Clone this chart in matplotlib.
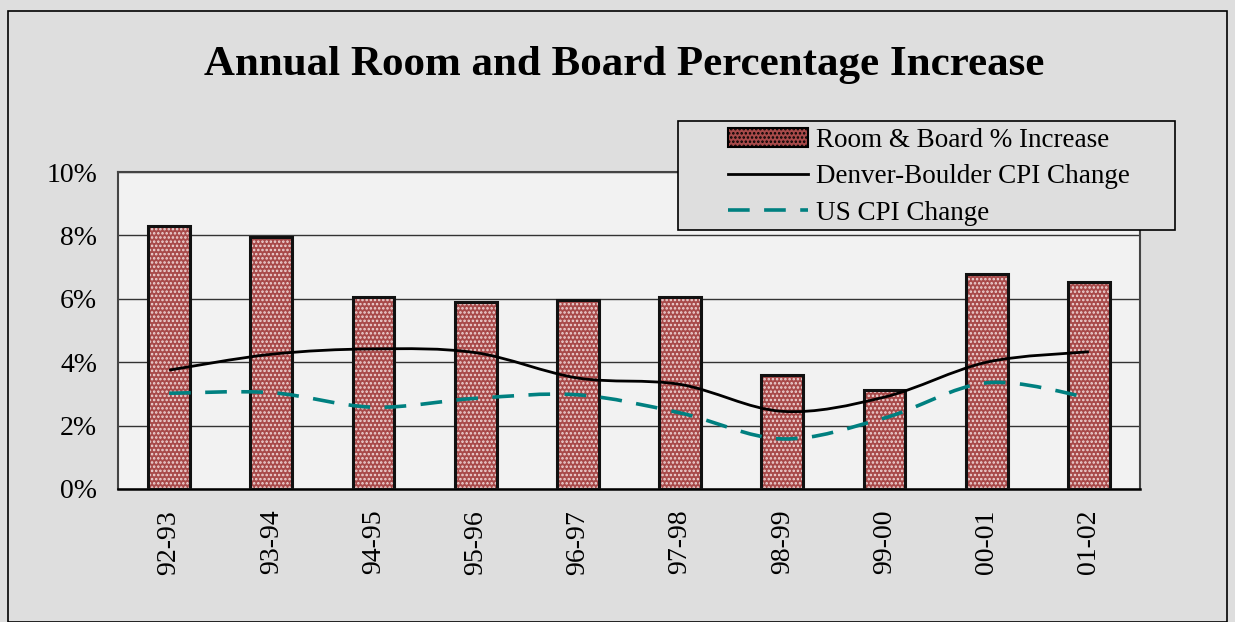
import numpy as np
import matplotlib.pyplot as plt
from matplotlib.path import Path
from matplotlib.patches import PathPatch, Patch
from matplotlib.lines import Line2D

plt.rcParams['font.family'] = ['Liberation Serif', 'DejaVu Serif']
plt.rcParams['hatch.linewidth'] = 1.2

# Veriler
years = ["92-93", "93-94", "94-95", "95-96", "96-97",
         "97-98", "98-99", "99-00", "00-01", "01-02"]
room_board = [8.30, 7.95, 6.05, 5.90, 5.97, 6.05, 3.60, 3.12, 6.78, 6.53]
denver_cpi = [3.75, 4.25, 4.42, 4.30, 3.50, 3.30, 2.45, 2.90, 4.00, 4.33]
us_cpi = [3.02, 3.04, 2.58, 2.86, 2.97, 2.40, 1.58, 2.24, 3.35, 2.88]


def smooth_path(x, y, t=1 / 6):
    # Excel benzeri yumuşatılmış çizgi: Catmull-Rom -> Bezier
    x = np.asarray(x, float)
    y = np.asarray(y, float)
    pts = np.column_stack([x, y])
    verts = [pts[0]]
    codes = [Path.MOVETO]
    n = len(pts)
    for i in range(n - 1):
        p0 = pts[i - 1] if i > 0 else pts[i]
        p1 = pts[i]
        p2 = pts[i + 1]
        p3 = pts[i + 2] if i + 2 < n else pts[i + 1]
        c1 = p1 + (p2 - p0) * t
        c2 = p2 - (p3 - p1) * t
        verts += [c1, c2, p2]
        codes += [Path.CURVE4] * 3
    return Path(verts, codes)


W, H = 1235, 622
fig = plt.figure(figsize=(W / 100, H / 100), dpi=100)
fig.patch.set_facecolor('#dedede')

# dış çerçeve
fig.add_artist(plt.Rectangle((8 / W, 0), 1 - 16 / W, 1 - 11 / H,
                             transform=fig.transFigure, fill=False,
                             edgecolor='black', lw=1.2))

ax = fig.add_axes([118 / W, 133 / H, 1022 / W, 317 / H])
ax.set_facecolor('#f2f2f2')

x = np.arange(len(years))
ax.bar(x, room_board, width=0.41, color='#a84a4a', hatch='....',
       edgecolor='#f0d8d8', lw=0, zorder=3)
ax.bar(x, room_board, width=0.41, fill=False, edgecolor='#111111',
       lw=2.2, zorder=4)

ax.add_patch(PathPatch(smooth_path(x, denver_cpi), fill=False,
                       edgecolor='black', lw=2, zorder=5))
ax.add_patch(PathPatch(smooth_path(x, us_cpi), fill=False,
                       edgecolor='#008080', lw=2.6, linestyle=(0, (6, 4)),
                       zorder=5))

ax.set_xlim(-0.5, len(years) - 0.5)
ax.set_ylim(0, 10)
ax.set_yticks(range(0, 11, 2))
ax.set_yticklabels([f"{v}%" for v in range(0, 11, 2)], fontsize=20)
ax.set_xticks(x)
ax.set_xticklabels(years, rotation=90, fontsize=20)
ax.tick_params(length=0)
ax.tick_params(axis='y', pad=15)
ax.tick_params(axis='x', pad=15)
ax.grid(axis='y', color='#333333', lw=1.0, zorder=1)
for side in ['top', 'left', 'right']:
    ax.spines[side].set_color('#444444')
    ax.spines[side].set_linewidth(1.5)
ax.spines['bottom'].set_linewidth(1.8)

fig.text(624 / W, 1 - 65 / H, "Annual Room and Board Percentage Increase",
         ha='center', va='center', fontsize=31, fontweight='bold')

# lejant kutusu
fig.add_artist(plt.Rectangle((678 / W, 1 - 230 / H), 497 / W, 109 / H,
                             transform=fig.transFigure, facecolor='#dedede',
                             edgecolor='black', lw=1.2, zorder=9))

handles = [Patch(facecolor='#a84a4a', edgecolor='black', hatch='....', lw=1.5),
           Line2D([], [], color='black', lw=2),
           Line2D([], [], color='#008080', lw=2.6, linestyle=(0, (6, 4)))]
labels = ["Room & Board % Increase", "Denver-Boulder CPI Change", "US CPI Change"]
leg = fig.legend(handles, labels, loc='upper left',
                 bbox_to_anchor=(728 / W, 1 - 128 / H),
                 fontsize=19.5, frameon=False,
                 handlelength=2.95, handleheight=0.65, labelspacing=0.42,
                 borderpad=0, borderaxespad=0, handletextpad=0.3)
leg.set_zorder(10)

fig.savefig("out.png", dpi=100, facecolor=fig.get_facecolor())
